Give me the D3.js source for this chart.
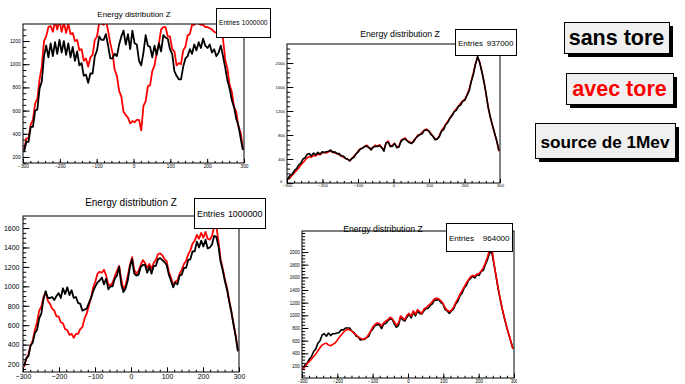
<!DOCTYPE html>
<html>
<head>
<meta charset="utf-8">
<script src="https://cdn.jsdelivr.net/npm/d3@7"></script>
<style>
  body { margin: 0; background: #fff; }
  svg { display: block; font-family: "Liberation Sans", Arial, Helvetica, sans-serif; }
</style>
</head>
<body>
<svg id="chart" width="685" height="384"></svg>
<script>
// ---- data ----
const titles = ["Energy distribution Z", "Energy distribution Z", "Energy distribution Z", "Energy distribution Z"];
const entries = ["1000000", "937000", "1000000", "964000"];
const legendLabels = ["sans tore", "avec tore", "source de 1Mev"];

const xTicks = [-300, -200, -100, 0, 100, 200, 300];
const yTicks1 = [200, 400, 600, 800, 1000, 1200];
const yTicks2 = [0, 400, 800, 1200, 1600, 2000];
const yTicks3 = [200, 400, 600, 800, 1000, 1200, 1400, 1600];
const yTicks4 = [200, 400, 600, 800, 1000, 1200, 1400, 1600, 1800, 2000];

// bin centres, 6 units wide, z from -300 to 300
const binCentre = d3.range(-297, 300, 6);

// top left
const sansTore1 = [
  250, 330, 330, 460, 460, 600, 610, 790, 850, 1070,
  1160, 1060, 1180, 1070, 1190, 1090, 1210, 1100, 1200, 1080,
  1180, 1060, 1150, 1030, 1110, 990, 1010, 900, 910, 840,
  920, 920, 1070, 1120, 1240, 1210, 1210, 1260, 1160, 1050,
  1050, 1090, 1070, 1170, 1240, 1290, 1170, 1260, 1130, 1290,
  1180, 1170, 1030, 990, 1100, 1250, 1160, 1150, 1060, 1160,
  1080, 1180, 1110, 1250, 1230, 1220, 1130, 1090, 940, 900,
  870, 870, 980, 1050, 1070, 1130, 1090, 1170, 1120, 1190,
  1140, 1220, 1160, 1140, 1170, 1100, 1130, 1070, 1100, 1160,
  1070, 970, 860, 790, 690, 630, 530, 470, 360, 260
];
const avecTore1 = [
  260, 360, 360, 480, 520, 660, 700, 870, 980, 1200,
  1240, 1320, 1330, 1280, 1370, 1300, 1380, 1280, 1360, 1270,
  1350, 1260, 1270, 1200, 1210, 1120, 1130, 1030, 1050, 980,
  1060, 1080, 1210, 1240, 1360, 1350, 1340, 1380, 1290, 1180,
  1100, 950, 900, 770, 720, 590, 560, 540, 490, 510,
  500, 520, 520, 430, 640, 680, 810, 820, 940, 990,
  1100, 1180, 1300, 1320, 1320, 1240, 1240, 1130, 1110, 990,
  1010, 1000, 1120, 1150, 1250, 1260, 1340, 1340, 1360, 1350,
  1340, 1340, 1320, 1320, 1310, 1300, 1280, 1270, 1260, 1280,
  1220, 1040, 960, 820, 760, 630, 590, 460, 410, 270
];

// top right
const sansTore2 = [
  80, 130, 150, 210, 240, 300, 330, 400, 420, 480,
  490, 450, 500, 470, 510, 480, 520, 510, 520, 530,
  550, 510, 520, 490, 490, 450, 450, 410, 400, 370,
  410, 430, 490, 520, 570, 580, 610, 610, 590, 550,
  600, 610, 610, 620, 590, 530, 670, 680, 610, 610,
  660, 590, 600, 690, 730, 730, 700, 670, 660, 690,
  750, 780, 810, 820, 880, 880, 870, 810, 780, 720,
  730, 770, 860, 890, 970, 1010, 1080, 1120, 1190, 1210,
  1280, 1300, 1360, 1380, 1460, 1530, 1690, 1810, 1980, 2110,
  2000, 1850, 1680, 1480, 1250, 1090, 960, 830, 700, 540
];
const avecTore2 = [
  60, 90, 130, 170, 210, 250, 300, 340, 380, 420,
  440, 430, 460, 450, 480, 470, 500, 510, 500, 520,
  530, 520, 500, 490, 470, 450, 430, 410, 390, 370,
  410, 450, 490, 540, 570, 580, 610, 630, 590, 570,
  600, 630, 610, 640, 590, 550, 670, 700, 610, 630,
  660, 610, 600, 710, 730, 750, 700, 690, 660, 710,
  750, 800, 810, 850, 880, 900, 870, 830, 780, 740,
  730, 790, 870, 920, 980, 1030, 1080, 1140, 1190, 1240,
  1280, 1330, 1370, 1400, 1470, 1560, 1700, 1840, 1990, 2100,
  2010, 1860, 1690, 1470, 1260, 1090, 950, 820, 690, 530
];

// bottom left
const sansTore3 = [
  180, 260, 280, 390, 420, 520, 550, 670, 720, 870,
  950, 880, 880, 890, 860, 900, 930, 880, 980, 920,
  990, 910, 960, 880, 890, 830, 820, 750, 760, 770,
  830, 880, 950, 1000, 1040, 1060, 1090, 1020, 1080, 970,
  1000, 1000, 1080, 1110, 1200, 1020, 940, 980, 1060, 1200,
  1280, 1130, 1110, 1120, 1200, 1220, 1220, 1140, 1200, 1130,
  1210, 1210, 1280, 1290, 1270, 1250, 1220, 1120, 1060, 990,
  1040, 1020, 1110, 1120, 1190, 1190, 1270, 1280, 1360, 1360,
  1460, 1400, 1470, 1410, 1480, 1390, 1400, 1430, 1520, 1510,
  1410, 1250, 1160, 1050, 960, 840, 730, 600, 480, 330
];
const avecTore3 = [
  170, 250, 300, 390, 440, 550, 630, 750, 790, 890,
  940, 850, 820, 770, 750, 690, 690, 630, 620, 560,
  550, 500, 510, 470, 510, 510, 560, 580, 670, 720,
  800, 880, 990, 1050, 1130, 1150, 1140, 1170, 1110, 1020,
  1010, 1040, 1100, 1160, 1210, 1070, 970, 1010, 1110, 1220,
  1300, 1170, 1130, 1160, 1220, 1270, 1240, 1190, 1230, 1180,
  1240, 1270, 1330, 1340, 1320, 1280, 1260, 1150, 1090, 1010,
  1050, 1060, 1130, 1170, 1230, 1260, 1330, 1370, 1440, 1470,
  1530, 1490, 1550, 1500, 1560, 1490, 1480, 1520, 1610, 1630,
  1460, 1280, 1180, 1070, 980, 850, 740, 610, 490, 340
];

// bottom right
const sansTore4 = [
  160, 220, 250, 310, 350, 430, 470, 560, 600, 690,
  710, 670, 720, 680, 710, 710, 720, 730, 770, 770,
  800, 800, 800, 750, 730, 670, 660, 610, 620, 620,
  650, 670, 750, 790, 840, 850, 850, 790, 860, 870,
  910, 940, 940, 870, 810, 840, 970, 930, 910, 970,
  1020, 960, 1050, 990, 1070, 1030, 1020, 1070, 1110, 1110,
  1160, 1180, 1240, 1240, 1250, 1200, 1180, 1090, 1070, 1030,
  1070, 1100, 1180, 1220, 1310, 1350, 1430, 1470, 1550, 1580,
  1620, 1590, 1640, 1630, 1690, 1710, 1800, 1880, 1990, 2000,
  1820, 1620, 1420, 1250, 1090, 950, 820, 700, 590, 470
];
const avecTore4 = [
  150, 190, 240, 270, 310, 350, 390, 440, 490, 530,
  550, 560, 530, 520, 540, 560, 600, 650, 690, 730,
  760, 780, 770, 750, 720, 690, 660, 640, 620, 630,
  650, 700, 760, 820, 860, 880, 870, 830, 880, 910,
  930, 970, 950, 900, 840, 880, 990, 960, 930, 1000,
  1030, 990, 1070, 1020, 1090, 1060, 1030, 1100, 1120, 1150,
  1180, 1220, 1260, 1270, 1260, 1230, 1190, 1120, 1080, 1060,
  1080, 1130, 1200, 1260, 1330, 1390, 1450, 1510, 1560, 1610,
  1630, 1620, 1650, 1660, 1700, 1750, 1830, 1920, 2040, 2100,
  1830, 1640, 1440, 1260, 1100, 960, 830, 710, 590, 470
];

// ---- layout of the four pads ----
const panels = [
  { x0: 23, x1: 244, y0: 24, y1: 163, yMin: 148, yMax: 1347, yTicks: yTicks1, yMinor: 50,
    sans: sansTore1, avec: avecTore1, redOnTop: false, label: 4.8, padRight: 12, lw: 1.8,
    title: { x: 134, y: 16.5, size: 8 },
    stat: { x: 216, y: 8, w: 54, h: 29, size: 6.6, base: 25 } },
  { x0: 287, x1: 500, y0: 44, y1: 183, yMin: 0, yMax: 2317, yTicks: yTicks2, yMinor: 80,
    sans: sansTore2, avec: avecTore2, redOnTop: false, label: 4.2, padRight: 12, lw: 1.6,
    title: { x: 400, y: 37, size: 8.7 },
    stat: { x: 455, y: 29, w: 61, h: 26, size: 8, base: 46 } },
  { x0: 23, x1: 239, y0: 216, y1: 372, yMin: 118, yMax: 1724, yTicks: yTicks3, yMinor: 50,
    sans: sansTore3, avec: avecTore3, redOnTop: false, label: 7, padRight: 14, lw: 1.8,
    title: { x: 131, y: 206, size: 10 },
    stat: { x: 194, y: 198, w: 71, h: 30, size: 8.9, base: 217 } },
  { x0: 302, x1: 514, y0: 231, y1: 378, yMin: 10, yMax: 2332, yTicks: yTicks4, yMinor: 50,
    sans: sansTore4, avec: avecTore4, redOnTop: true, label: 4.5, padRight: 3, lw: 1.6,
    title: { x: 383, y: 231.5, size: 8.7 },
    stat: { x: 446, y: 223, w: 66, h: 28, size: 8, base: 241 } }
];

const svg = d3.select("#chart");
const defs = svg.append("defs");

panels.forEach((p, k) => {
  const x = d3.scaleLinear().domain([-300, 300]).range([p.x0, p.x1]);
  const y = d3.scaleLinear().domain([p.yMin, p.yMax]).range([p.y1, p.y0]);
  const w = p.x1 - p.x0, h = p.y1 - p.y0;
  const g = svg.append("g");

  defs.append("clipPath").attr("id", "frame" + k)
    .append("rect").attr("x", p.x0).attr("y", p.y0).attr("width", w).attr("height", h);
  defs.append("clipPath").attr("id", "pad" + k)
    .append("rect").attr("x", p.x0 - 30).attr("y", p.y0 - 30).attr("width", w + 30 + p.padRight).attr("height", h + 50);

  // histograms, dense bins drawn as a polyline through the bin centres
  const line = d3.line()
    .x((d, i) => x(binCentre[i]))
    .y(d => y(d));

  const hists = g.append("g").attr("clip-path", `url(#frame${k})`);
  const order = p.redOnTop
    ? [[p.sans, "#000"], [p.avec, "#ff0000"]]
    : [[p.avec, "#ff0000"], [p.sans, "#000"]];
  order.forEach(([vals, col]) => {
    hists.append("path")
      .attr("d", line(vals))
      .attr("fill", "none")
      .attr("stroke", col)
      .attr("stroke-width", p.lw)
      .attr("stroke-linejoin", "round");
  });

  // frame
  g.append("rect")
    .attr("x", p.x0).attr("y", p.y0).attr("width", w).attr("height", h)
    .attr("fill", "none").attr("stroke", "#000").attr("stroke-width", 1);

  const axes = g.append("g").attr("clip-path", `url(#pad${k})`);
  const xt = 0.03 * h, yt = 0.03 * w;
  const fmt = d3.format("d");

  // x axis, ticks point inward
  axes.append("g")
    .attr("transform", `translate(0,${p.y1})`)
    .call(d3.axisBottom(x).tickValues(d3.range(-300, 301, 20)).tickSize(-xt / 2).tickSizeOuter(0).tickFormat(""))
    .call(s => s.select(".domain").remove());
  axes.append("g")
    .attr("transform", `translate(0,${p.y1})`)
    .call(d3.axisBottom(x).tickValues(xTicks).tickSize(-xt).tickSizeOuter(0).tickPadding(p.label * 0.35)
      .tickFormat(d => k === 2 && d < 0 ? "\u2212" + Math.abs(d) : fmt(d)))
    .call(s => s.select(".domain").remove())
    .call(s => s.selectAll("text").attr("font-size", p.label).attr("font-family", null));

  // y axis
  const minorY = d3.range(Math.ceil(p.yMin / p.yMinor) * p.yMinor, p.yMax, p.yMinor);
  axes.append("g")
    .attr("transform", `translate(${p.x0},0)`)
    .call(d3.axisLeft(y).tickValues(minorY).tickSize(-yt / 2).tickSizeOuter(0).tickFormat(""))
    .call(s => s.select(".domain").remove());
  axes.append("g")
    .attr("transform", `translate(${p.x0},0)`)
    .call(d3.axisLeft(y).tickValues(p.yTicks).tickSize(-yt).tickSizeOuter(0).tickPadding(p.label * 0.5).tickFormat(fmt))
    .call(s => s.select(".domain").remove())
    .call(s => s.selectAll("text").attr("font-size", p.label).attr("font-family", null)
      .filter(d => d === 0).attr("dx", -2.5).attr("dy", "-0.1em"));
  axes.selectAll(".tick line").attr("stroke", "#000");

  // title
  g.append("text")
    .attr("x", p.title.x).attr("y", p.title.y)
    .attr("text-anchor", "middle")
    .attr("font-size", p.title.size)
    .text(titles[k]);

  // stats box
  const st = p.stat;
  g.append("rect")
    .attr("x", st.x + 0.5).attr("y", st.y + 0.5).attr("width", st.w).attr("height", st.h)
    .attr("fill", "#fff").attr("stroke", "#000").attr("stroke-width", 1);
  g.append("text")
    .attr("x", st.x + 3).attr("y", st.base)
    .attr("font-size", st.size)
    .text("Entries");
  g.append("text")
    .attr("x", st.x + st.w - 2.5).attr("y", st.base)
    .attr("text-anchor", "end")
    .attr("font-size", st.size)
    .text(entries[k]);
});

// legend panes on the right
const panes = [
  { x: 564, y: 22, w: 105, h: 31, size: 21.5, base: 45, color: "#000" },
  { x: 566, y: 73, w: 107, h: 31, size: 21.5, base: 96, color: "#ff0000" },
  { x: 535, y: 123, w: 140, h: 35, size: 17.2, base: 147.5, color: "#000" }
];
panes.forEach((q, i) => {
  svg.append("rect")
    .attr("x", q.x + 4).attr("y", q.y + 4).attr("width", q.w).attr("height", q.h)
    .attr("fill", "#000");
  svg.append("rect")
    .attr("x", q.x + 0.5).attr("y", q.y + 0.5).attr("width", q.w).attr("height", q.h)
    .attr("fill", "#f0f0f0").attr("stroke", "#000").attr("stroke-width", 1);
  svg.append("text")
    .attr("x", q.x + q.w / 2).attr("y", q.base)
    .attr("text-anchor", "middle")
    .attr("font-size", q.size)
    .attr("font-weight", "bold")
    .attr("fill", q.color)
    .text(legendLabels[i]);
});
</script>
</body>
</html>
